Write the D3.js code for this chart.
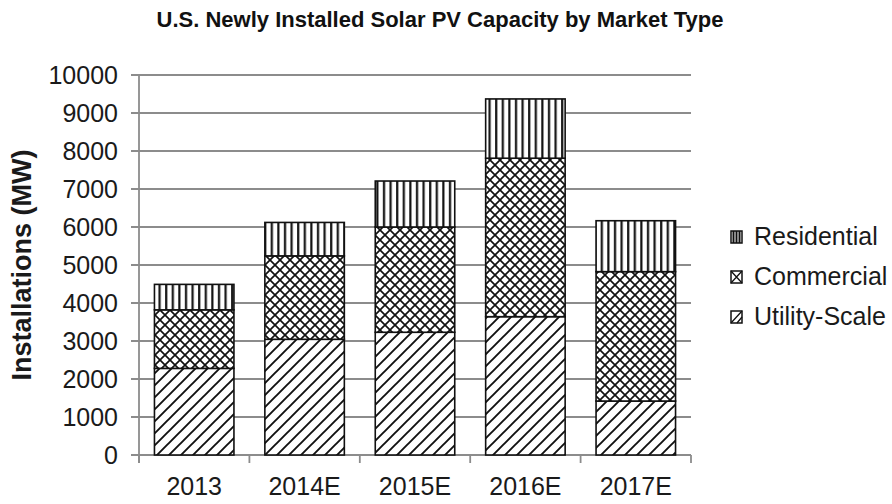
<!DOCTYPE html>
<html lang="en">
  <head>
    <meta charset="UTF-8" />
    <title>U.S. Newly Installed Solar PV Capacity by Market Type</title>
    <style>
      body { margin: 0; background: #fff; }
      svg { display: block; font-family: "Liberation Sans", Arial, sans-serif; }
    </style>
  </head>
  <body>
    <svg width="892" height="504"></svg>

    <script src="https://d3js.org/d3.v7.min.js"></script>
    <script>
      // Data (MW)
      const years = ["2013", "2014E", "2015E", "2016E", "2017E"];
      const utility = [2280, 3045, 3230, 3640, 1420];
      const commercial = [1540, 2195, 2770, 4170, 3405];
      const residential = [670, 880, 1210, 1560, 1340];
      const yTicks = [0, 1000, 2000, 3000, 4000, 5000, 6000, 7000, 8000, 9000, 10000];
      const seriesNames = ["Utility-Scale", "Commercial", "Residential"];

      const w = 892;
      const h = 504;
      const plotLeft = 139, plotRight = 691, plotTop = 75, plotBottom = 455;

      const rows = years.map((y, i) => ({
        year: y,
        "Utility-Scale": utility[i],
        Commercial: commercial[i],
        Residential: residential[i],
      }));

      const svg = d3.select("svg").attr("viewBox", `0 0 ${w} ${h}`);

      // hatch patterns
      const defs = svg.append("defs");
      const pVert = defs.append("pattern").attr("id", "p-res")
        .attr("patternUnits", "userSpaceOnUse").attr("width", 6.6).attr("height", 10);
      pVert.append("rect").attr("width", 6.6).attr("height", 10).attr("fill", "#fff");
      pVert.append("line").attr("x1", 1.2).attr("x2", 1.2).attr("y1", 0).attr("y2", 10)
        .attr("stroke", "#111").attr("stroke-width", 2.2);

      const pCross = defs.append("pattern").attr("id", "p-com")
        .attr("patternUnits", "userSpaceOnUse").attr("width", 10).attr("height", 10);
      pCross.append("rect").attr("width", 10).attr("height", 10).attr("fill", "#fff");
      pCross.append("path").attr("d", "M-1,-1L11,11M11,-1L-1,11")
        .attr("stroke", "#111").attr("stroke-width", 1.7);

      const pDiag = defs.append("pattern").attr("id", "p-uti")
        .attr("patternUnits", "userSpaceOnUse").attr("width", 12).attr("height", 12);
      pDiag.append("rect").attr("width", 12).attr("height", 12).attr("fill", "#fff");
      pDiag.append("path").attr("d", "M-3,3L3,-3M0,12L12,0M9,15L15,9")
        .attr("stroke", "#111").attr("stroke-width", 1.9);

      const fills = {
        "Utility-Scale": "url(#p-uti)",
        Commercial: "url(#p-com)",
        Residential: "url(#p-res)",
      };

      // Scales
      const x = d3.scaleBand().domain(years).range([plotLeft, plotRight])
        .paddingInner(0.28).paddingOuter(0.14);
      const y = d3.scaleLinear().domain([0, 10000]).range([plotBottom, plotTop]);

      // Title
      svg.append("text")
        .attr("x", 440).attr("y", 27)
        .attr("text-anchor", "middle")
        .attr("font-weight", "bold").attr("font-size", 22).attr("fill", "#111")
        .text("U.S. Newly Installed Solar PV Capacity by Market Type");

      // Gridlines
      svg.append("g").selectAll("line").data(yTicks).enter().append("line")
        .attr("x1", plotLeft - 8).attr("x2", plotRight)
        .attr("y1", (d) => y(d)).attr("y2", (d) => y(d))
        .attr("stroke", "#8c8c8c").attr("stroke-width", 1.8);

      // y axis
      const yAxis = d3.axisLeft(y).tickValues(yTicks).tickSize(0).tickPadding(21)
        .tickFormat(d3.format("d"));
      const gy = svg.append("g").attr("transform", `translate(${plotLeft},0)`).call(yAxis);
      gy.select(".domain").remove();
      gy.selectAll("text").attr("font-size", 25).attr("fill", "#1a1a1a")
        .attr("font-family", "Liberation Sans, Arial, sans-serif");

      // Axis lines
      svg.append("line").attr("x1", plotLeft).attr("x2", plotLeft)
        .attr("y1", plotTop).attr("y2", plotBottom + 8)
        .attr("stroke", "#8c8c8c").attr("stroke-width", 1.8);

      const step = x.step();
      const half = (step * x.paddingInner()) / 2;
      const bounds = years.map((d) => x(d) - half)
        .concat([x(years[years.length - 1]) + x.bandwidth() + half]);
      svg.append("g").selectAll("line").data(bounds).enter().append("line")
        .attr("x1", (d) => d).attr("x2", (d) => d)
        .attr("y1", plotBottom).attr("y2", plotBottom + 8)
        .attr("stroke", "#8c8c8c").attr("stroke-width", 1.8);

      // Stacked bars
      const stack = d3.stack().keys(seriesNames)(rows);
      svg.append("g").selectAll("g").data(stack).enter().append("g")
        .attr("fill", (s) => fills[s.key])
        .selectAll("rect").data((s) => s).enter().append("rect")
        .attr("x", (d) => x(d.data.year))
        .attr("y", (d) => y(d[1]))
        .attr("width", x.bandwidth())
        .attr("height", (d) => y(d[0]) - y(d[1]))
        .attr("stroke", "#111").attr("stroke-width", 1.6);

      // x axis labels
      const xAxis = d3.axisBottom(x).tickSize(0).tickPadding(22);
      const gx = svg.append("g").attr("transform", `translate(0,${plotBottom})`).call(xAxis);
      gx.select(".domain").remove();
      gx.selectAll("text").attr("font-size", 25).attr("fill", "#1a1a1a")
        .attr("font-family", "Liberation Sans, Arial, sans-serif");

      // y axis title
      svg.append("text")
        .attr("transform", "translate(31,265) rotate(-90)")
        .attr("text-anchor", "middle")
        .attr("font-weight", "bold").attr("font-size", 27).attr("fill", "#1a1a1a")
        .text("Installations (MW)");

      // Legend
      const legendOrder = ["Residential", "Commercial", "Utility-Scale"];
      const lg = svg.append("g").selectAll("g").data(legendOrder).enter().append("g")
        .attr("transform", (d, i) => `translate(731,${231 + i * 40})`);
      lg.append("rect").attr("width", 11).attr("height", 12)
        .attr("fill", "#fff").attr("stroke", "#111").attr("stroke-width", 1.5);
      lg.filter((d) => d === "Residential").selectAll("line").data([2.5, 5.5, 8.5]).enter()
        .append("line").attr("x1", (d) => d).attr("x2", (d) => d).attr("y1", 0).attr("y2", 12)
        .attr("stroke", "#111").attr("stroke-width", 2);
      lg.filter((d) => d === "Commercial").append("path").attr("d", "M0,0L11,12M11,0L0,12")
        .attr("stroke", "#111").attr("stroke-width", 1.3);
      lg.filter((d) => d === "Utility-Scale").append("path").attr("d", "M0,12L11,0M6,12L11,6")
        .attr("stroke", "#111").attr("stroke-width", 1.3);
      lg.append("text").attr("x", 23).attr("y", 14)
        .attr("font-size", 25).attr("fill", "#1a1a1a")
        .text((d) => d);
    </script>
  </body>
</html>
